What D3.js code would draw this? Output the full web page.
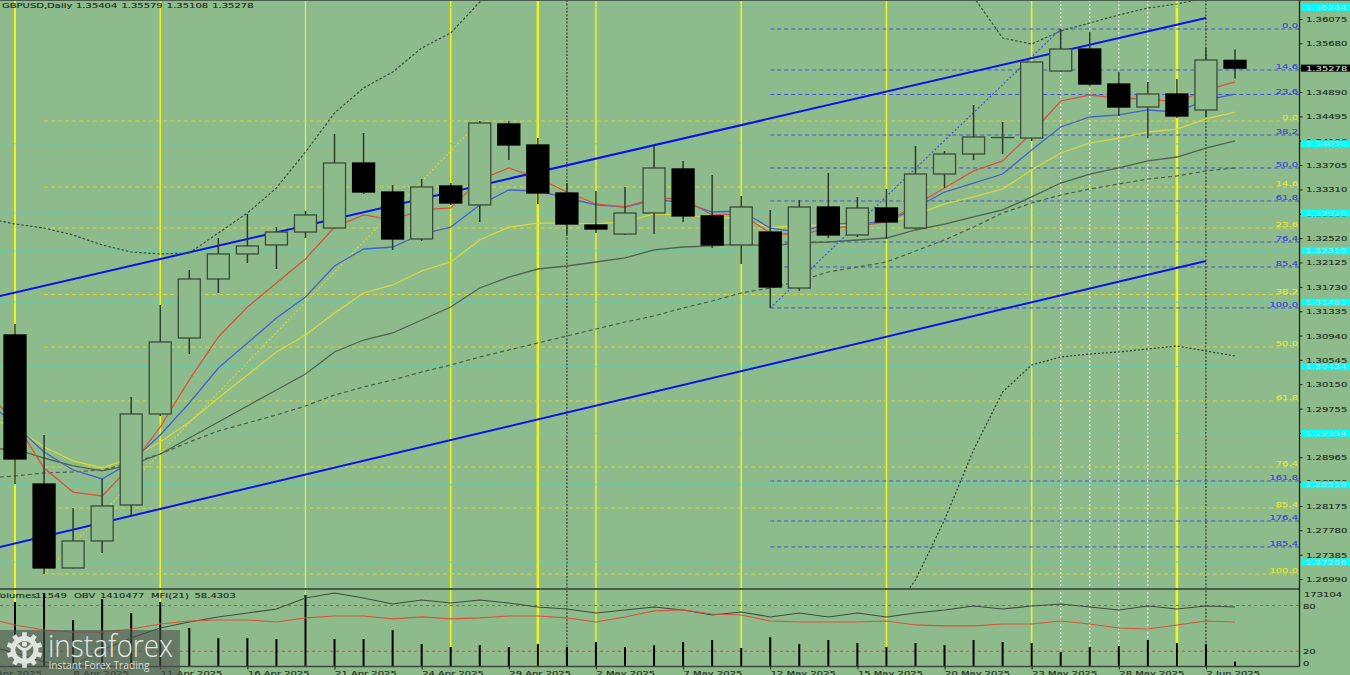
<!DOCTYPE html>
<html><head><meta charset="utf-8">
<style>html,body{margin:0;padding:0;background:#8fbc8b;overflow:hidden}svg{display:block}text{font-family:"DejaVu Sans",sans-serif}</style>
<script src="https://cdn.jsdelivr.net/npm/d3@7/dist/d3.min.js"></script>
</head><body><div id="c"></div>
<script>
// ---------- data (leading value of the 44-long lists belongs to the bar just off the left edge)
const dates=["3 Apr 2025","4 Apr 2025","7 Apr 2025","8 Apr 2025","9 Apr 2025","10 Apr 2025","11 Apr 2025","14 Apr 2025","15 Apr 2025","16 Apr 2025","17 Apr 2025","18 Apr 2025","21 Apr 2025","22 Apr 2025","23 Apr 2025","24 Apr 2025","25 Apr 2025","28 Apr 2025","29 Apr 2025","30 Apr 2025","1 May 2025","2 May 2025","5 May 2025","6 May 2025","7 May 2025","8 May 2025","9 May 2025","12 May 2025","13 May 2025","14 May 2025","15 May 2025","16 May 2025","19 May 2025","20 May 2025","21 May 2025","22 May 2025","23 May 2025","26 May 2025","27 May 2025","28 May 2025","29 May 2025","30 May 2025","2 Jun 2025","3 Jun 2025"];
const open=[1.30949,1.28531,1.27169,1.27607,1.28191,1.29667,1.30900,1.31857,1.32263,1.32409,1.32619,1.32684,1.33739,1.33268,1.32506,1.33366,1.33058,1.34372,1.34031,1.33252,1.32733,1.32587,1.32928,1.33642,1.32880,1.32409,1.32619,1.31711,1.33025,1.32571,1.33009,1.32684,1.33560,1.33885,1.34153,1.34144,1.35231,1.35588,1.35020,1.34647,1.34858,1.34599,1.35404];
const high=[1.31127,1.29327,1.28142,1.28613,1.29942,1.31435,1.32003,1.32522,1.32912,1.32700,1.32960,1.34209,1.34225,1.33382,1.33479,1.33414,1.34420,1.34420,1.34144,1.33414,1.33285,1.33350,1.34015,1.33772,1.33544,1.33204,1.32977,1.33139,1.33577,1.33188,1.33317,1.34015,1.33934,1.34680,1.34404,1.35377,1.35913,1.35864,1.35215,1.35053,1.35102,1.35605,1.35579];
const low=[1.28531,1.27072,1.27161,1.27412,1.28013,1.29635,1.30640,1.31630,1.32117,1.32019,1.32522,1.32676,1.33236,1.32328,1.32474,1.33058,1.32782,1.33788,1.33074,1.32587,1.32603,1.32571,1.32587,1.32782,1.32360,1.32101,1.31387,1.31663,1.32522,1.32538,1.32506,1.32668,1.33333,1.33788,1.33885,1.34096,1.35223,1.34988,1.34501,1.34144,1.34469,1.34485,1.35108];
const close=[1.28937,1.27169,1.27607,1.28175,1.29667,1.30835,1.31857,1.32263,1.32393,1.32619,1.32896,1.33739,1.33268,1.32506,1.33350,1.33090,1.34388,1.34031,1.33252,1.32749,1.32668,1.32928,1.33658,1.32880,1.32409,1.33025,1.31727,1.33025,1.32571,1.33009,1.32782,1.33560,1.33885,1.34161,1.34153,1.35377,1.35588,1.35020,1.34647,1.34858,1.34501,1.35410,1.35278];
const volume=[146000,166000,105000,153000,121000,146000,87000,64500,64500,62200,161800,62200,62200,82600,50900,44100,48700,44100,50900,44100,55400,44100,48700,55400,60000,41900,66800,50900,60000,53200,44100,53200,48700,60000,55400,53200,32800,44100,46400,60000,53200,50900,11549];
const emaRed=[1.30040,1.29537,1.28791,1.28401,1.28337,1.28824,1.29456,1.30219,1.30916,1.31402,1.31792,1.32182,1.32700,1.32896,1.32815,1.32977,1.33009,1.33463,1.33658,1.33495,1.33268,1.33074,1.33025,1.33171,1.33155,1.32896,1.32912,1.32603,1.32571,1.32684,1.32717,1.32782,1.33058,1.33333,1.33610,1.33772,1.34225,1.34745,1.34842,1.34793,1.34777,1.34728,1.34923,1.35053];
const emaBlue=[1.29894,1.29489,1.29050,1.28759,1.28613,1.28888,1.29327,1.29845,1.30413,1.30819,1.31224,1.31565,1.32068,1.32344,1.32376,1.32587,1.32700,1.33058,1.33301,1.33285,1.33171,1.33058,1.33025,1.33139,1.33106,1.32944,1.32960,1.32684,1.32619,1.32749,1.32765,1.32782,1.33009,1.33268,1.33414,1.33560,1.33950,1.34323,1.34485,1.34518,1.34599,1.34566,1.34761,1.34858];
const emaYellow=[1.29602,1.29456,1.29131,1.28905,1.28791,1.28953,1.29213,1.29537,1.29926,1.30300,1.30673,1.30949,1.31305,1.31630,1.31760,1.31987,1.32133,1.32490,1.32700,1.32765,1.32765,1.32749,1.32782,1.32912,1.32896,1.32847,1.32847,1.32684,1.32733,1.32717,1.32733,1.32782,1.32896,1.33074,1.33188,1.33317,1.33626,1.33901,1.34063,1.34144,1.34242,1.34290,1.34453,1.34566];
const emaDark=[1.29099,1.29099,1.28953,1.28824,1.28743,1.28840,1.29018,1.29278,1.29537,1.29797,1.30056,1.30316,1.30673,1.30867,1.30981,1.31192,1.31402,1.31711,1.31889,1.32019,1.32068,1.32133,1.32198,1.32328,1.32376,1.32393,1.32425,1.32393,1.32441,1.32457,1.32490,1.32522,1.32652,1.32749,1.32863,1.32977,1.33188,1.33414,1.33560,1.33658,1.33772,1.33836,1.33982,1.34096];
const bandMid=[1.28629,1.28661,1.28710,1.28726,1.28759,1.28872,1.29018,1.29213,1.29391,1.29521,1.29651,1.29797,1.29975,1.30105,1.30219,1.30348,1.30462,1.30592,1.30705,1.30819,1.30932,1.31046,1.31159,1.31257,1.31387,1.31500,1.31630,1.31711,1.31825,1.31971,1.32052,1.32133,1.32311,1.32490,1.32700,1.32928,1.33090,1.33220,1.33317,1.33398,1.33479,1.33528,1.33609,1.33658];
const bandUpper=[1.32847,1.32749,1.32684,1.32571,1.32409,1.32295,1.32263,1.32279,1.32603,1.32928,1.33333,1.33917,1.34550,1.34956,1.35215,1.35604,1.35848,1.36351,1.36675,null,null,null,null,null,null,null,null,null,null,null,null,null,null,null,1.36432,1.35767,1.35669,1.35880,1.36010,1.36140,1.36253,1.36318,1.36416,1.36546];
const bandLower=[null,null,null,null,null,null,null,null,null,null,null,null,null,null,null,null,null,null,null,null,null,null,null,null,null,null,null,null,null,null,null,1.26325,1.26974,1.27948,1.29083,1.30024,1.30462,1.30592,1.30640,1.30673,1.30722,1.30770,1.30689,1.30608];
const obvLine=[28.2,17.7,5.9,0.7,21.7,37.4,50.5,58.4,65.0,70.2,75.5,89.9,96.5,89.9,82.1,87.3,83.4,87.3,83.4,78.1,75.5,70.2,74.2,78.1,74.2,67.6,71.6,65.0,70.2,65.0,70.2,65.0,70.2,74.2,79.4,75.5,79.4,82.1,78.1,74.2,79.4,75.5,79.4,78.1];
const mfiLine=[63.7,54.5,47.9,45.3,45.3,49.2,55.8,59.7,61.0,61.0,58.4,63.7,66.3,66.3,62.4,65.0,62.4,63.7,66.3,66.3,63.7,58.4,65.0,72.9,74.2,68.9,67.6,59.7,58.4,58.4,58.4,59.7,54.5,53.2,53.2,55.8,55.8,59.7,55.8,50.5,49.2,54.5,59.7,58.43];
const fibBlueNames=["0.0","14.6","23.6","38.2","50.0","61.8","76.4","85.4","100.0","161.8","176.4","185.4"];
const fibBlueLevels=[1.35913,1.35248,1.34850,1.34193,1.33658,1.33123,1.32457,1.32052,1.31387,1.28580,1.27931,1.27510];
const fibYellowNames=["0.0","14.6","23.6","38.2","50.0","61.8","76.4","85.4","100.0"];
const fibYellowLevels=[1.34420,1.33350,1.32684,1.31605,1.30754,1.29878,1.28807,1.28142,1.27072];
const levelTags=["1.36264","1.34050","1.32926","1.32315","1.31481","1.30434","1.29354","1.28519","1.27266"];
const priceTicks=[1.36075,1.35680,1.35285,1.34890,1.34495,1.34100,1.33705,1.33310,1.32915,1.32520,1.32125,1.31730,1.31335,1.30940,1.30545,1.30150,1.29755,1.29360,1.28965,1.28570,1.28175,1.27780,1.27385,1.26990];
const channelUpper=[1.31529,1.36091], channelLower=[1.27456,1.32149], channelIdx=[-1,41];
const fibDiagYellow=[[1,1.27072],[16,1.34420]], fibDiagBlue=[[26,1.31387],[36,1.35913]];
const yellowLines=[[0,2],[5,1.5],[10,1.2],[15,1.5],[18,2.5],[20,1.5],[25,1.5],[30,1.5],[35,1.5],[40,2.6]];
const whiteLines=[36,37,38,39], blackLines=[19,41];
const dateTickIdx=[-1,2,5,8,11,14,17,20,23,26,29,32,35,38,41];

// ---------- layout and scales
const W=1350,H=675,axisX=1299.5,mainBottom=589,subBottom=666.5;
const x=d3.scaleLinear().domain([0,42]).range([15,1235]);
const y=d3.scaleLinear().domain([1.26990,1.36075]).range([579,19]);
const vy=d3.scaleLinear().domain([0,173104]).range([subBottom,590]);
const my=d3.scaleLinear().domain([0,100]).range([subBottom,590.3]);
const svg=d3.select("#c").append("svg").attr("width",W).attr("height",H);
const defs=svg.append("defs");
defs.append("clipPath").attr("id","m").append("rect").attr("x",0).attr("y",1).attr("width",axisX).attr("height",mainBottom-1);
defs.append("clipPath").attr("id","s").append("rect").attr("x",0).attr("y",mainBottom).attr("width",axisX).attr("height",subBottom-mainBottom);
svg.append("rect").attr("width",W).attr("height",H).attr("fill","#8ebb8b");
const SY=0.78;
function label(g,px,py,str,fill,anchor,sw){
  return g.append("text").attr("transform",`translate(${px},${py}) scale(1,${SY})`).attr("font-size",10).attr("fill",fill).attr("stroke",fill).attr("stroke-width",sw==null?0.2:sw).attr("text-anchor",anchor||"start").text(str);
}

// vertical period lines
const vert=svg.append("g");
yellowLines.forEach(([i,w])=>vert.append("line").attr("x1",x(i)).attr("x2",x(i)).attr("y1",0).attr("y2",subBottom).attr("stroke","#f2f21e").attr("stroke-width",w));
whiteLines.forEach(i=>vert.append("line").attr("x1",x(i)).attr("x2",x(i)).attr("y1",0).attr("y2",subBottom).attr("stroke","#e4eee0").attr("stroke-width",1.2).attr("stroke-dasharray","2,2"));
blackLines.forEach(i=>vert.append("line").attr("x1",x(i)).attr("x2",x(i)).attr("y1",0).attr("y2",subBottom).attr("stroke","#2e3a2e").attr("stroke-width",1.2).attr("stroke-dasharray","2,1.6"));

// main window
const main=svg.append("g").attr("clip-path","url(#m)");
levelTags.forEach(t=>main.append("line").attr("x1",0).attr("x2",axisX).attr("y1",y(+t)).attr("y2",y(+t)).attr("stroke","#3fd9c4").attr("stroke-opacity",0.8).attr("stroke-width",1).attr("stroke-dasharray","3,3"));
fibYellowLevels.forEach(v=>main.append("line").attr("x1",x(1)).attr("x2",axisX).attr("y1",y(v)).attr("y2",y(v)).attr("stroke","#d6d63a").attr("stroke-width",1).attr("stroke-dasharray","4,3"));
fibBlueLevels.forEach(v=>main.append("line").attr("x1",x(26)).attr("x2",axisX).attr("y1",y(v)).attr("y2",y(v)).attr("stroke","#3f55d6").attr("stroke-width",1).attr("stroke-dasharray","4,3"));
const diag=d3.line().x(d=>x(d[0])).y(d=>y(d[1]));
main.append("path").attr("d",diag(fibDiagYellow)).attr("fill","none").attr("stroke","#d6d63a").attr("stroke-width",1.2).attr("stroke-dasharray","2,2");
main.append("path").attr("d",diag(fibDiagBlue)).attr("fill","none").attr("stroke","#3f55d6").attr("stroke-width",1.2).attr("stroke-dasharray","2,2");
[channelUpper,channelLower].forEach(c=>main.append("path").attr("d",diag(channelIdx.map((i,k)=>[i,c[k]]))).attr("fill","none").attr("stroke","#0a14e6").attr("stroke-width",2));
const ser=d3.line().defined(d=>d!=null).x((d,i)=>x(i-1)).y(d=>y(d));
function series(v,col,w,dash){const p=main.append("path").attr("d",ser(v)).attr("fill","none").attr("stroke",col).attr("stroke-width",w);if(dash)p.attr("stroke-dasharray",dash);}
series(bandUpper,"#3c4c3c",1.2,"2.5,2");
series(bandLower,"#2f3d2f",1.2,"2,2");
series(bandMid,"#4a5e4a",1.2,"4,3");
series(emaDark,"#4f6450",1.3);
series(emaYellow,"#d8d83e",1.3);
series(emaBlue,"#4563d0",1.3);
series(emaRed,"#d8543f",1.3);

// candles
const cw=22;
const cg=main.selectAll("g.c").data(open.map((o,i)=>({i,o,h:high[i],l:low[i],c:close[i]}))).join("g");
cg.append("line").attr("x1",d=>x(d.i)).attr("x2",d=>x(d.i)).attr("y1",d=>y(d.h)).attr("y2",d=>y(d.l)).attr("stroke","#2c3a2c").attr("stroke-width",1.5);
cg.append("rect").attr("x",d=>x(d.i)-cw/2).attr("width",cw)
  .attr("y",d=>y(Math.max(d.o,d.c))).attr("height",d=>Math.max(0.1,Math.abs(y(d.o)-y(d.c))))
  .attr("fill",d=>d.c<d.o?"#000":"#8ebb8b").attr("stroke",d=>d.c<d.o?"#000":"#3a4b3a").attr("stroke-width",1.3);

// sub window
const sub=svg.append("g").attr("clip-path","url(#s)");
[80,20].forEach(v=>sub.append("line").attr("x1",0).attr("x2",axisX).attr("y1",my(v)).attr("y2",my(v)).attr("stroke","#dc4a3c").attr("stroke-width",1).attr("stroke-dasharray","3,3"));
[[-6,"Volumes"],[35,"11549"],[74,"OBV"],[100,"1410477"],[151,"MFI(21)"],[194.5,"58.4303"]].forEach(([px,t])=>label(sub,px,598,t,"#1f2b1f"));
sub.selectAll("line.v").data(volume).join("line").attr("x1",(d,i)=>x(i)).attr("x2",(d,i)=>x(i)).attr("y1",d=>vy(d)).attr("y2",vy(0)).attr("stroke","#000").attr("stroke-width",2);
const sline=d3.line().x((d,i)=>x(i-1)).y(d=>my(d));
sub.append("path").attr("d",sline(obvLine)).attr("fill","none").attr("stroke","#3d4f3d").attr("stroke-width",1.1);
sub.append("path").attr("d",sline(mfiLine)).attr("fill","none").attr("stroke","#d8543f").attr("stroke-width",1.2);

// frame
svg.append("line").attr("x1",0).attr("x2",W).attr("y1",0.5).attr("y2",0.5).attr("stroke","#4a5c4a");
svg.append("line").attr("x1",0).attr("x2",axisX).attr("y1",mainBottom).attr("y2",mainBottom).attr("stroke","#4a5c4a").attr("stroke-width",2);
svg.append("line").attr("x1",axisX).attr("x2",axisX).attr("y1",0).attr("y2",subBottom).attr("stroke","#1c261c").attr("stroke-width",1.3);

// price axis
const pa=svg.append("g").attr("transform",`translate(${axisX},0)`).call(d3.axisRight(y).tickValues(priceTicks).tickSize(3).tickPadding(3.5).tickFormat(d3.format(".5f")));
pa.select(".domain").remove();
pa.selectAll("line").attr("stroke","#1c261c");
pa.selectAll("text").attr("font-family","DejaVu Sans").attr("font-size",10).attr("fill","#1f2b1f").attr("stroke","#1f2b1f").attr("stroke-width",0.2).attr("transform",`scale(1,${SY})`);

// price tags
levelTags.forEach(t=>{
  svg.append("rect").attr("x",1301).attr("y",y(+t)-3.5).attr("width",49).attr("height",7).attr("fill","#00ffff");
  label(svg,1305,y(+t)+2.6,t,"#a4e6dc",null,0);
});
svg.append("rect").attr("x",1301).attr("y",y(close[42])-3.5).attr("width",49).attr("height",7).attr("fill","#000");
label(svg,1306,y(close[42])+2.8,d3.format(".5f")(close[42]),"#e6f0e6",null,0);

// fib labels
fibBlueNames.forEach((n,i)=>label(svg,1298,y(fibBlueLevels[i])-1,n,"#3a3fe0","end"));
fibYellowNames.forEach((n,i)=>label(svg,1298,y(fibYellowLevels[i])-1,n,"#e4e43a","end"));

// sub window scale
[[1304,594,"173104"],[1303,605.7,"80"],[1303,651.3,"20"],[1303,662.7,"0"]].forEach(([px,py,t])=>label(svg,px,py+2.8,t,"#1f2b1f"));
// volume/MFI bottom axis
const ta=svg.append("g").attr("transform",`translate(0,${subBottom})`).call(d3.axisBottom(x).tickValues(dateTickIdx).tickSize(3).tickFormat(i=>dates[i+1]));
ta.select(".domain").attr("d",`M0,0H${axisX}`).attr("stroke","#3a4b3a").attr("stroke-width",1.3);
ta.selectAll("line").attr("stroke","#1c261c");
ta.selectAll("text").attr("font-family","DejaVu Sans").attr("font-size",10).attr("fill","#1f2b1f").attr("stroke","#1f2b1f").attr("stroke-width",0.2).attr("text-anchor","start").attr("dy",0).attr("y",0)
  .attr("transform",`translate(0,9.2) scale(1,${SY})`);

// title
label(svg,2,8,"GBPUSD,Daily","#1f2b1f");
["1.35404","1.35579","1.35108","1.35278"].forEach((t,i)=>label(svg,76+i*45.4,8,t,"#1f2b1f"));

// watermark
const wm=svg.append("g");
wm.append("rect").attr("x",0).attr("y",630).attr("width",180).attr("height",45).attr("fill","#4d524f").attr("opacity",0.62);
const gx=24.5,gy=650;
const teeth=d3.range(10).map(i=>i*36);
const wc="#dfe4df";
wm.append("circle").attr("cx",gx).attr("cy",gy).attr("r",11.5).attr("fill","none").attr("stroke",wc).attr("stroke-width",5);
teeth.forEach(a=>wm.append("rect").attr("x",gx-2.3).attr("y",gy-17.8).attr("width",4.6).attr("height",5.5).attr("fill",wc).attr("transform",`rotate(${a},${gx},${gy})`));
wm.append("path").attr("d",`M${gx-7},${gy-5} Q${gx},${gy+4} ${gx+7},${gy-5}`).attr("fill","none").attr("stroke",wc).attr("stroke-width",3);
wm.append("circle").attr("cx",gx).attr("cy",gy-6).attr("r",2.6).attr("fill",wc);
wm.append("rect").attr("x",gx-2).attr("y",gy-1).attr("width",4).attr("height",13).attr("fill",wc);
wm.append("text").attr("x",48).attr("y",657).attr("font-size",31).attr("font-weight",300).attr("fill","#e2e7e2").attr("textLength",125).attr("lengthAdjust","spacingAndGlyphs").style("font-family","'Open Sans'").text("instaforex");
wm.append("text").attr("x",48.5).attr("y",669).attr("font-size",11.5).attr("fill","#d8ddd8").attr("textLength",101).attr("lengthAdjust","spacingAndGlyphs").style("font-family","'Open Sans'").text("Instant Forex Trading");
</script></body></html>
